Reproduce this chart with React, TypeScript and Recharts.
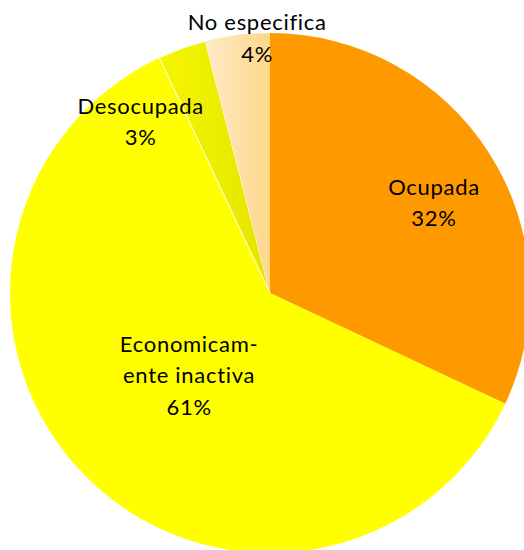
import React from "react";
import { PieChart, Pie, Cell } from "recharts";

const categories = ["Ocupada", "Economicamente inactiva", "Desocupada", "No especifica"];
const percents = [32, 61, 3, 4];
const labelLines = [["Ocupada"], ["Economicam-", "ente inactiva"], ["Desocupada"], ["No especifica"]];
const fills = ["#FF9900", "#FFFF00", "url(#gDes)", "url(#gNo)"];
const strokes = ["none", "none", "#FFFFFF", "none"];

// label placement: radius fraction and clockwise angle shift (deg) relative to slice mid angle
const labelRadius = [0.735, 0.385, 0.85, 1.012];
const labelShift = [1.5, 8.9, -16, 4.4];

const data = categories.map((name, i) => ({ name, value: percents[i], idx: i }));

const RADIAN = Math.PI / 180;

const renderLabel = (props: any) => {
  const { cx, cy, midAngle, outerRadius, index } = props;
  const r = outerRadius * labelRadius[index];
  const a = (midAngle - labelShift[index]) * RADIAN;
  const x = cx + r * Math.cos(a);
  const y = cy - r * Math.sin(a);
  const lines = [...labelLines[index], `${percents[index]}%`];
  return (
    <text
      x={x}
      y={y}
      textAnchor="middle"
      fill="#000"
      fontFamily="Lato, 'Open Sans', sans-serif"
      fontSize={22}
      letterSpacing={0.7}
    >
      {lines.map((l, k) => (
        <tspan key={k} x={x} dy={k === 0 ? 0 : 31.5}>
          {l}
        </tspan>
      ))}
    </text>
  );
};

export default function App() {
  return (
    <div style={{ position: "absolute", left: 0, top: 0, width: 524, height: 550, background: "#fff" }}>
      <PieChart width={524} height={550} margin={{ top: 0, right: 0, bottom: 0, left: 0 }}>
        <defs>
          <linearGradient id="gDes" x1="0" y1="0" x2="1" y2="0">
            <stop offset="0%" stopColor="#F6F600" />
            <stop offset="100%" stopColor="#E4E400" />
          </linearGradient>
          <linearGradient id="gNo" x1="0" y1="0" x2="1" y2="0">
            <stop offset="0%" stopColor="#FFEBC8" />
            <stop offset="100%" stopColor="#FFD68A" />
          </linearGradient>
        </defs>
        <Pie
          data={data}
          dataKey="value"
          nameKey="name"
          cx={270}
          cy={293}
          outerRadius={260}
          startAngle={90}
          endAngle={-270}
          label={renderLabel}
          labelLine={false}
          isAnimationActive={false}
        >
          {data.map((d, i) => (
            <Cell key={d.name} fill={fills[i]} stroke={strokes[i]} strokeWidth={1} />
          ))}
        </Pie>
      </PieChart>
    </div>
  );
}
